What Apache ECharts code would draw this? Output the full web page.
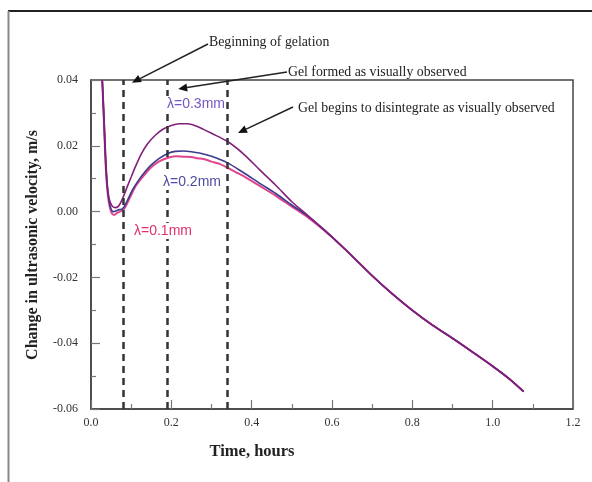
<!DOCTYPE html>
<html>
<head>
<meta charset="utf-8">
<script src="https://cdn.jsdelivr.net/npm/echarts@6/dist/echarts.min.js"></script>
<style>
  html, body { margin: 0; padding: 0; background: #fff; }
  #chart { width: 592px; height: 482px; }
</style>
</head>
<body>
<div id="chart"></div>
<script>
// tick labels
const xTickLabels = ['0.0', '0.2', '0.4', '0.6', '0.8', '1.0', '1.2']
const yTickLabels = ['-0.06', '-0.04', '-0.02', '0.00', '0.02', '0.04']

// λ = 0.3 mm
const t03 = [0.028, 0.032, 0.036, 0.040, 0.045, 0.052, 0.060, 0.068, 0.075, 0.082, 0.090, 0.100, 0.110, 0.125, 0.140, 0.160, 0.180, 0.200, 0.220, 0.240, 0.260, 0.280, 0.300, 0.340, 0.380, 0.420, 0.460, 0.500, 0.540, 0.580, 0.620, 0.660, 0.700, 0.750, 0.800, 0.850, 0.900, 0.950, 1.000, 1.040, 1.077]
const v03 = [0.0400, 0.0300, 0.0180, 0.0090, 0.0040, 0.0018, 0.0012, 0.0016, 0.0030, 0.0050, 0.0075, 0.0105, 0.0135, 0.0175, 0.0205, 0.0232, 0.0251, 0.0262, 0.0267, 0.0267, 0.0261, 0.0250, 0.0238, 0.0213, 0.0175, 0.0127, 0.0080, 0.0030, -0.0012, -0.0055, -0.0100, -0.0147, -0.0195, -0.0250, -0.0300, -0.0345, -0.0385, -0.0427, -0.0470, -0.0507, -0.0547]

// λ = 0.2 mm
const t02 = [0.028, 0.032, 0.036, 0.040, 0.045, 0.050, 0.055, 0.062, 0.070, 0.078, 0.085, 0.095, 0.105, 0.120, 0.135, 0.150, 0.170, 0.190, 0.210, 0.230, 0.250, 0.270, 0.300, 0.340, 0.380, 0.420, 0.460, 0.500, 0.540, 0.580, 0.620, 0.660, 0.700, 0.750, 0.800, 0.850, 0.900, 0.950, 1.000, 1.040, 1.077]
const v02 = [0.0400, 0.0280, 0.0160, 0.0080, 0.0032, 0.0008, 0.0000, 0.0002, 0.0006, 0.0008, 0.0020, 0.0045, 0.0070, 0.0098, 0.0122, 0.0142, 0.0162, 0.0176, 0.0183, 0.0184, 0.0182, 0.0178, 0.0168, 0.0148, 0.0118, 0.0086, 0.0055, 0.0020, -0.0014, -0.0055, -0.0100, -0.0147, -0.0195, -0.0250, -0.0300, -0.0345, -0.0385, -0.0427, -0.0470, -0.0507, -0.0547]

// λ = 0.1 mm
const t01 = [0.028, 0.033, 0.037, 0.042, 0.047, 0.052, 0.058, 0.065, 0.072, 0.080, 0.088, 0.098, 0.110, 0.125, 0.140, 0.155, 0.170, 0.190, 0.210, 0.230, 0.250, 0.265, 0.280, 0.300, 0.320, 0.340, 0.360, 0.380, 0.420, 0.460, 0.500, 0.540, 0.580, 0.620, 0.660, 0.700, 0.750, 0.800, 0.850, 0.900, 0.950, 1.000, 1.040, 1.077]
const v01 = [0.0400, 0.0250, 0.0130, 0.0050, 0.0012, -0.0006, -0.0010, -0.0004, 0.0000, 0.0005, 0.0020, 0.0045, 0.0075, 0.0100, 0.0122, 0.0140, 0.0153, 0.0163, 0.0168, 0.0167, 0.0166, 0.0162, 0.0160, 0.0152, 0.0145, 0.0133, 0.0120, 0.0108, 0.0078, 0.0048, 0.0015, -0.0018, -0.0057, -0.0100, -0.0147, -0.0195, -0.0250, -0.0300, -0.0345, -0.0385, -0.0427, -0.0470, -0.0507, -0.0547]

// gelation events (hours)
const gelMarks = [0.077, 0.19, 0.3375]

const pairs = (t, v) => t.map((x, i) => [x, v[i]])

const chart = echarts.init(document.getElementById('chart'))

const tickFont = { color: '#333', fontFamily: 'Liberation Serif', fontSize: 12 }
const axisLine = { show: true, onZero: false, lineStyle: { color: '#444', width: 1.5 } }
const tickStyle = { color: '#777', width: 1.2 }

chart.setOption({
  animation: false,
  grid: {
    left: 91, right: 19, top: 80, bottom: 73,
    show: true, borderColor: '#444', borderWidth: 1.5,
    outerBoundsMode: 'none',
  },
  xAxis: {
    type: 'value',
    min: +xTickLabels[0],
    max: +xTickLabels[xTickLabels.length - 1],
    interval: 0.2,
    axisLine,
    axisTick: { inside: true, length: 9, lineStyle: tickStyle },
    minorTick: { show: true, splitNumber: 2, length: 5, lineStyle: tickStyle },
    splitLine: { show: false },
    axisLabel: { ...tickFont, margin: 8, formatter: (v, i) => xTickLabels[i] },
  },
  yAxis: {
    type: 'value',
    min: +yTickLabels[0],
    max: +yTickLabels[yTickLabels.length - 1],
    interval: 0.02,
    axisLine,
    axisTick: { inside: true, length: 9, lineStyle: tickStyle },
    minorTick: { show: true, splitNumber: 2, length: 5, lineStyle: tickStyle },
    splitLine: { show: false },
    axisLabel: { ...tickFont, margin: 13, formatter: (v, i) => yTickLabels[i] },
  },
  series: [
    {
      name: 'λ=0.1mm',
      type: 'line',
      data: pairs(t01, v01),
      showSymbol: false,
      smooth: 0.3,
      lineStyle: { color: '#e0448e', width: 2 },
      markLine: {
        silent: true,
        symbol: ['none', 'none'],
        label: { show: false },
        lineStyle: { type: [7, 5], color: '#333', width: 2.5 },
        data: gelMarks.map(x => ({ xAxis: x })),
      },
    },
    {
      name: 'λ=0.2mm',
      type: 'line',
      data: pairs(t02, v02),
      showSymbol: false,
      smooth: 0.3,
      lineStyle: { color: '#3c3c8c', width: 1.6 },
    },
    {
      name: 'λ=0.3mm',
      type: 'line',
      data: pairs(t03, v03),
      showSymbol: false,
      smooth: 0.3,
      lineStyle: { color: '#80207a', width: 1.6 },
    },
  ],
})

// annotation arrows: tail in pixels, head in data coords
const arrows = [
  { tail: [208, 44], head: [0.102, 0.0392] },
  { tail: [287, 72], head: [0.217, 0.0373] },
  { tail: [293, 107], head: [0.366, 0.0239] },
]

const graphics = []
arrows.forEach(a => {
  const h = chart.convertToPixel({ gridIndex: 0 }, a.head)
  const dx = h[0] - a.tail[0], dy = h[1] - a.tail[1]
  const len = Math.sqrt(dx * dx + dy * dy)
  const ux = dx / len, uy = dy / len
  const bx = h[0] - ux * 9, by = h[1] - uy * 9
  graphics.push({
    type: 'line', z: 100,
    shape: { x1: a.tail[0], y1: a.tail[1], x2: bx, y2: by },
    style: { stroke: '#222', lineWidth: 1.5 },
  })
  graphics.push({
    type: 'polygon', z: 100,
    shape: { points: [[h[0], h[1]], [bx - uy * 4, by + ux * 4], [bx + uy * 4, by - ux * 4]] },
    style: { fill: '#111' },
  })
})

const noteFont = '13.8px "Liberation Serif"'
const notes = [
  { text: 'Beginning of gelation', x: 209, y: 42 },
  { text: 'Gel formed as visually observed', x: 288, y: 72 },
  { text: 'Gel begins to disintegrate as visually observed', x: 298, y: 108 },
]
notes.forEach(n => graphics.push({
  type: 'text', x: n.x, y: n.y, z: 100,
  style: { text: n.text, font: noteFont, fill: '#222', textAlign: 'left', textVerticalAlign: 'middle' },
}))

const lambdas = [
  { text: 'λ=0.3mm', x: 166, y: 104, color: '#7456c4' },
  { text: 'λ=0.2mm', x: 162, y: 182, color: '#4c4ca0' },
  { text: 'λ=0.1mm', x: 133, y: 231, color: '#e0306e' },
]
lambdas.forEach(l => graphics.push({
  type: 'text', x: l.x, y: l.y, z: 100,
  style: {
    text: l.text, font: '14px "Liberation Sans"', fill: l.color,
    textAlign: 'left', textVerticalAlign: 'middle',
    backgroundColor: '#fff', padding: [1, 1],
  },
}))

// axis titles
graphics.push({
  type: 'text', x: 252, y: 452,
  style: { text: 'Time, hours', font: 'bold 16.5px "Liberation Serif"', fill: '#222', textAlign: 'center', textVerticalAlign: 'middle' },
})
graphics.push({
  type: 'text', x: 33, y: 245, rotation: Math.PI / 2,
  style: { text: 'Change in ultrasonic velocity, m/s', font: 'bold 16px "Liberation Serif"', fill: '#222', textAlign: 'center', textVerticalAlign: 'middle' },
})

// outer frame of the figure
graphics.push({ type: 'line', shape: { x1: 8, y1: 11, x2: 592, y2: 11 }, style: { stroke: '#222', lineWidth: 2 } })
graphics.push({ type: 'line', shape: { x1: 8.5, y1: 11, x2: 8.5, y2: 482 }, style: { stroke: '#888', lineWidth: 2 } })

chart.setOption({ graphic: graphics })
</script>
</body>
</html>
